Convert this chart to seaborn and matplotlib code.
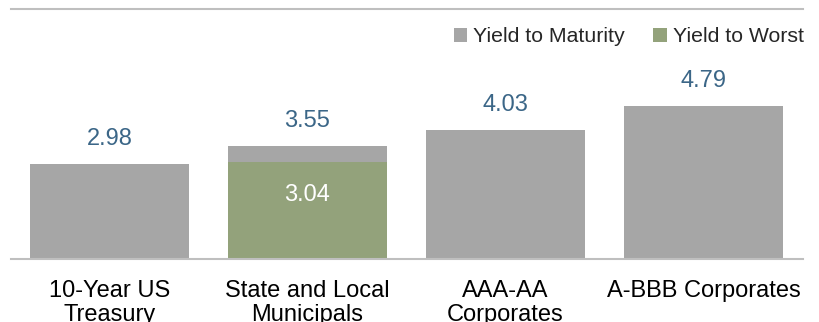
import matplotlib
matplotlib.use("Agg")
import matplotlib.pyplot as plt
from matplotlib.patches import Patch
import pandas as pd
import seaborn as sns

# Yield comparison across fixed-income sectors
categories = ["10-Year US\nTreasury", "State and Local\nMunicipals",
              "AAA-AA\nCorporates", "A-BBB Corporates"]
yield_to_maturity = [2.98, 3.55, 4.03, 4.79]
yield_to_worst = [None, 3.04, None, None]

GRAY = "#a6a6a6"
GREEN = "#93a27b"
LABEL_BLUE = "#3b6687"
RULE = "#bfbfbf"

sns.set_theme(style="white")
plt.rcParams["font.family"] = ["Liberation Sans", "DejaVu Sans"]

df = pd.DataFrame({"category": categories,
                   "ytm": yield_to_maturity,
                   "ytw": yield_to_worst})

fig = plt.figure(figsize=(8.19, 3.22), dpi=100)
ax = fig.add_axes([10.5 / 819, 1 - 259 / 322, 792 / 819, 250 / 322])

sns.barplot(data=df, x="category", y="ytm", order=categories, color=GRAY,
            width=0.8, saturation=1, linewidth=0, edgecolor="none", ax=ax)
sns.barplot(data=df.dropna(subset=["ytw"]), x="category", y="ytw",
            order=categories, color=GREEN, width=0.8, saturation=1,
            linewidth=0, edgecolor="none", ax=ax)

ax.set_ylim(0, 250 / 31.94)
ax.set_xlim(-0.5, len(categories) - 0.5)
ax.set_xlabel("")
ax.set_ylabel("")
ax.set_yticks([])
ax.tick_params(axis="x", length=0, pad=15, labelsize=17, colors="black")
for lbl in ax.get_xticklabels():
    lbl.set_linespacing(1.1)

for side in ("left", "right"):
    ax.spines[side].set_visible(False)
for side in ("top", "bottom"):
    ax.spines[side].set_color(RULE)
    ax.spines[side].set_linewidth(1.5)

# Value labels
for i, v in enumerate(yield_to_maturity):
    ax.annotate(f"{v:.2f}", xy=(i, v), xytext=(0, 19), textcoords="offset pixels",
                ha="center", va="baseline", fontsize=17, color=LABEL_BLUE)
for i, v in enumerate(yield_to_worst):
    if v is not None:
        ax.annotate(f"{v:.2f}", xy=(i, v), xytext=(0, -39), textcoords="offset pixels",
                    ha="center", va="baseline", fontsize=17, color="white")

handles = [Patch(facecolor=GRAY, edgecolor="none", label="Yield to Maturity"),
           Patch(facecolor=GREEN, edgecolor="none", label="Yield to Worst")]
fig.legend(handles=handles, loc="center right", ncol=2, frameon=False,
           bbox_to_anchor=(804 / 819, 1 - 37 / 322), fontsize=15.3,
           handlelength=0.62, handleheight=0.66, handletextpad=0.3,
           columnspacing=1.35, borderpad=0, borderaxespad=0)

fig.savefig("out.png", dpi=100)
